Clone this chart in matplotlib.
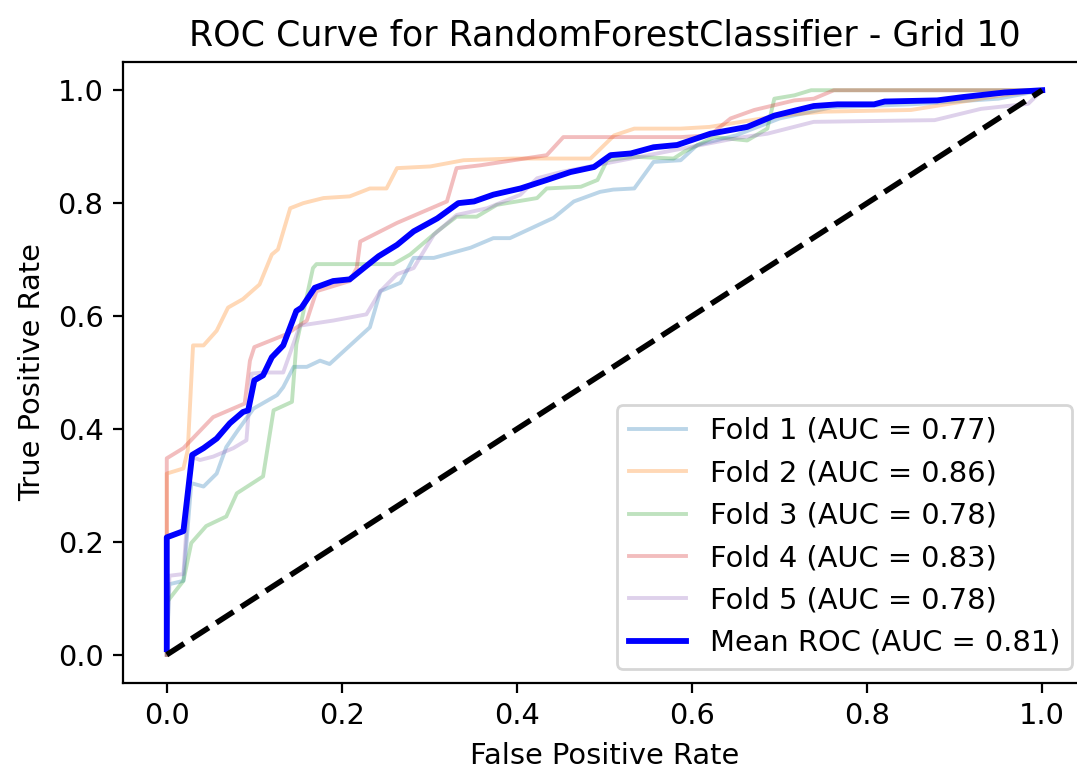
import numpy as np
import matplotlib
matplotlib.use("Agg")
import matplotlib.pyplot as plt

# ROC points (fpr, tpr) per fold
fold1_fpr = [0.0, 0.003, 0.019, 0.028, 0.042, 0.057, 0.068, 0.08, 0.099, 0.126, 0.133, 0.145, 0.16, 0.175,
             0.186, 0.232, 0.244, 0.267, 0.282, 0.305, 0.347, 0.373, 0.392, 0.442, 0.465, 0.495, 0.51, 0.534,
             0.556, 0.587, 0.606, 0.65, 0.7, 0.76, 0.85, 0.95, 1.0]
fold1_tpr = [0.0, 0.125, 0.131, 0.304, 0.298, 0.321, 0.368, 0.395, 0.436, 0.46, 0.474, 0.51, 0.51, 0.521,
             0.515, 0.58, 0.644, 0.659, 0.703, 0.703, 0.721, 0.738, 0.738, 0.774, 0.803, 0.82, 0.824, 0.826,
             0.873, 0.876, 0.903, 0.92, 0.95, 0.97, 0.975, 0.985, 1.0]

fold2_fpr = [0.0, 0.0, 0.0, 0.019, 0.024, 0.03, 0.042, 0.057, 0.07, 0.087, 0.106, 0.12, 0.127, 0.141, 0.156,
             0.179, 0.209, 0.232, 0.251, 0.263, 0.301, 0.339, 0.396, 0.484, 0.511, 0.534, 0.587, 0.62,
             0.7, 0.75, 0.85, 0.95, 1.0]
fold2_tpr = [0.0, 0.216, 0.321, 0.33, 0.363, 0.548, 0.548, 0.574, 0.615, 0.63, 0.656, 0.709, 0.718, 0.791, 0.80,
             0.809, 0.812, 0.826, 0.826, 0.862, 0.865, 0.876, 0.879, 0.879, 0.92, 0.932, 0.932, 0.935,
             0.955, 0.962, 0.965, 0.99, 1.0]

fold3_fpr = [0.0, 0.0, 0.019, 0.028, 0.045, 0.068, 0.08, 0.11, 0.122, 0.143, 0.148, 0.167, 0.171, 0.259,
             0.278, 0.309, 0.331, 0.354, 0.377, 0.423, 0.434, 0.473, 0.492, 0.503, 0.534, 0.579, 0.591,
             0.625, 0.663, 0.686, 0.694, 0.717, 0.736, 1.0]
fold3_tpr = [0.0, 0.093, 0.131, 0.198, 0.228, 0.245, 0.286, 0.316, 0.433, 0.448, 0.55, 0.685, 0.692, 0.692,
             0.709, 0.75, 0.776, 0.776, 0.797, 0.809, 0.826, 0.829, 0.841, 0.876, 0.882, 0.879, 0.891,
             0.917, 0.911, 0.932, 0.985, 0.991, 1.0, 1.0]

fold4_fpr = [0.0, 0.0, 0.0, 0.019, 0.053, 0.089, 0.095, 0.10, 0.137, 0.16, 0.171, 0.209, 0.217, 0.221, 0.263,
             0.32, 0.331, 0.358, 0.434, 0.453, 0.587, 0.62, 0.644, 0.671, 0.717, 0.739, 0.762, 1.0]
fold4_tpr = [0.0, 0.327, 0.348, 0.366, 0.421, 0.445, 0.521, 0.545, 0.568, 0.592, 0.644, 0.662, 0.685, 0.732, 0.765,
             0.803, 0.862, 0.867, 0.885, 0.917, 0.917, 0.92, 0.95, 0.965, 0.982, 0.985, 1.0, 1.0]

fold5_fpr = [0.0, 0.003, 0.019, 0.028, 0.038, 0.053, 0.076, 0.091, 0.097, 0.11, 0.133, 0.152, 0.19, 0.228,
             0.244, 0.263, 0.282, 0.305, 0.331, 0.366, 0.404, 0.423, 0.45, 0.5, 0.55, 0.6, 0.65, 0.686,
             0.739, 0.877, 0.93, 0.984, 1.0]
fold5_tpr = [0.0, 0.14, 0.143, 0.351, 0.345, 0.351, 0.366, 0.38, 0.498, 0.50, 0.50, 0.583, 0.592, 0.603,
             0.644, 0.674, 0.685, 0.744, 0.779, 0.791, 0.815, 0.844, 0.855, 0.87, 0.885, 0.9, 0.915, 0.923,
             0.944, 0.947, 0.967, 0.976, 1.0]

mean_fpr = [0.0, 0.0, 0.019, 0.029, 0.042, 0.057, 0.072, 0.087, 0.093, 0.10, 0.11, 0.12, 0.133, 0.148, 0.154,
            0.169, 0.19, 0.209, 0.225, 0.242, 0.263, 0.282, 0.309, 0.333, 0.351, 0.373, 0.404, 0.434, 0.461,
            0.488, 0.507, 0.53, 0.556, 0.583, 0.621, 0.663, 0.694, 0.739, 0.766, 0.808, 0.82, 0.88, 0.91,
            0.957, 1.0]
mean_tpr = [0.01, 0.208, 0.219, 0.354, 0.366, 0.383, 0.41, 0.43, 0.433, 0.486, 0.495, 0.527, 0.548, 0.609, 0.615,
            0.65, 0.662, 0.665, 0.685, 0.706, 0.726, 0.75, 0.773, 0.80, 0.803, 0.815, 0.826, 0.841, 0.855,
            0.864, 0.885, 0.888, 0.899, 0.903, 0.923, 0.935, 0.955, 0.972, 0.975, 0.975, 0.98, 0.982, 0.988,
            0.996, 1.0]

fold_aucs = [0.77, 0.86, 0.78, 0.83, 0.78]
mean_auc = 0.81

folds = [(fold1_fpr, fold1_tpr), (fold2_fpr, fold2_tpr), (fold3_fpr, fold3_tpr),
         (fold4_fpr, fold4_tpr), (fold5_fpr, fold5_tpr)]

plt.rcParams['font.size'] = 10.4
plt.rcParams['axes.titlesize'] = 12.5

fig = plt.figure(figsize=(10.77 / 2, 7.74 / 2), dpi=200)
ax = fig.add_axes([123 / 1077, (774 - 683) / 774, 963 / 1077, 621 / 774])

for i, (fpr, tpr) in enumerate(folds):
    ax.plot(fpr, tpr, lw=1.4, alpha=0.3, label=f"Fold {i + 1} (AUC = {fold_aucs[i]:.2f})")

ax.plot(mean_fpr, mean_tpr, color="b", lw=2.1, label=f"Mean ROC (AUC = {mean_auc:.2f})")
ax.plot([0, 1], [0, 1], "k--", lw=2)

ax.set_xlim(-0.05, 1.05)
ax.set_ylim(-0.05, 1.05)
ax.set_xlabel("False Positive Rate")
ax.set_ylabel("True Positive Rate")
ax.set_title("ROC Curve for RandomForestClassifier - Grid 10")
ax.legend(loc="lower right")

fig.savefig("out.png", dpi=200)
